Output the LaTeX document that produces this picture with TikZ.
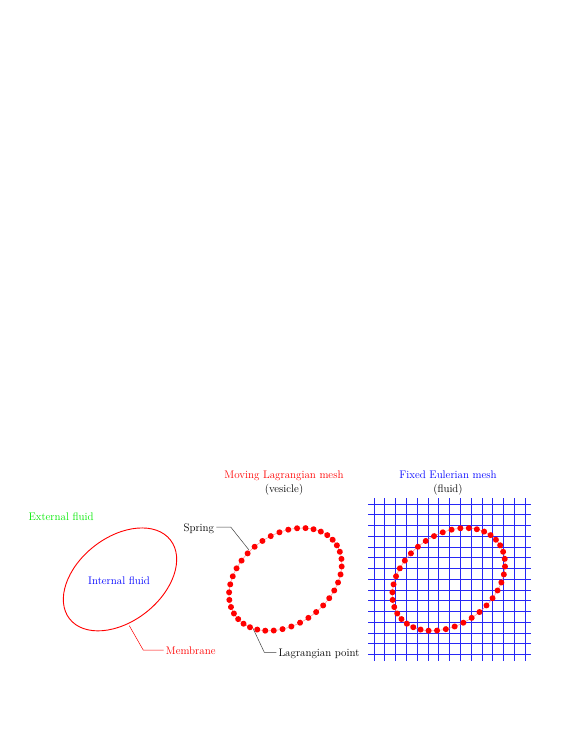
\documentclass[tikz,border=0pt]{standalone}
\usepackage{tikz}
\definecolor{extgreen}{RGB}{0,235,0}
\definecolor{gridblue}{RGB}{40,40,245}
\tikzset{
  lbl/.style={inner xsep=2pt, inner ysep=0pt, font=\fontsize{11}{13}\selectfont},
  membrane/.style={draw=red, line width=0.9pt},
  spring/.style={draw=red!45, line width=0.5pt},
  lagdot/.style={fill=red},
  gridline/.style={fill=gridblue},
  leader/.style={draw=black!75, line width=0.5pt},
  redleader/.style={draw=red, line width=0.5pt}
}
\begin{document}
\begin{tikzpicture}[x=1pt,y=-1pt]
\useasboundingbox (0,0) rectangle (581,752);
\fill[white] (0,0) rectangle (581,752);

% ---------- left: membrane ----------
\draw[membrane] (120,579.4) ellipse [x radius=64pt, y radius=42pt, rotate=38];
\node[lbl, text=extgreen, anchor=base west] (ext) at (26.3,520) {External fluid};
\node[lbl, text=blue, anchor=base] (int) at (119,584.5) {Internal fluid};
\node[lbl, text=red, anchor=base west] (memb) at (163.7,654) {Membrane};
\coordinate (mempt) at (129.3,625.7);
\coordinate (memknee) at (143.3,650.2);
\draw[redleader] (mempt) -- (memknee) -- (memknee -| memb.west);

% ---------- middle: Lagrangian mesh ----------
\begin{scope}[shift={(285.4,579.4)}, rotate=36.4]
  \draw[spring] (0,0) ellipse [x radius=61.8pt, y radius=44.7pt];
  \foreach \i in {0,...,39}
    \fill[lagdot] ({61.8*cos(\i*9+4)},{44.7*sin(\i*9+4)}) circle[radius=3pt];
\end{scope}
\node[lbl, text=red, anchor=base] (movt) at (284,478) {Moving Lagrangian mesh};
\node[lbl, anchor=base] (ves) at (284,492) {(vesicle)};
\node[lbl, anchor=base east] (spr) at (216.3,531) {Spring};
\coordinate (sknee) at (230.7,527);
\coordinate (spt) at (249,550);
\draw[leader] (sknee -| spr.east) -- (sknee) -- (spt);
\node[lbl, anchor=base west] (lagp) at (276.3,656) {Lagrangian point};
\coordinate (lpt) at (253.3,629);
\coordinate (lknee) at (264.3,652.3);
\draw[leader] (lpt) -- (lknee) -- (lknee -| lagp.west);

% ---------- right: Eulerian grid ----------
\foreach \k in {0,...,14} {
  \fill[gridline] ({374+10.79*\k-0.4},498) rectangle ({374+10.79*\k+0.4},661);
  \fill[gridline] (368,{504+10.76*\k-0.4}) rectangle (531,{504+10.76*\k+0.4});
}
\begin{scope}[shift={(448.7,579.4)}, rotate=36.4]
  \draw[spring] (0,0) ellipse [x radius=61.8pt, y radius=44.7pt];
  \foreach \i in {0,...,39}
    \fill[lagdot] ({61.8*cos(\i*9+4)},{44.7*sin(\i*9+4)}) circle[radius=3pt];
\end{scope}
\node[lbl, text=blue, anchor=base] (eult) at (448,478) {Fixed Eulerian mesh};
\node[lbl, anchor=base] (fl) at (448,492) {(fluid)};
\end{tikzpicture}
\end{document}
